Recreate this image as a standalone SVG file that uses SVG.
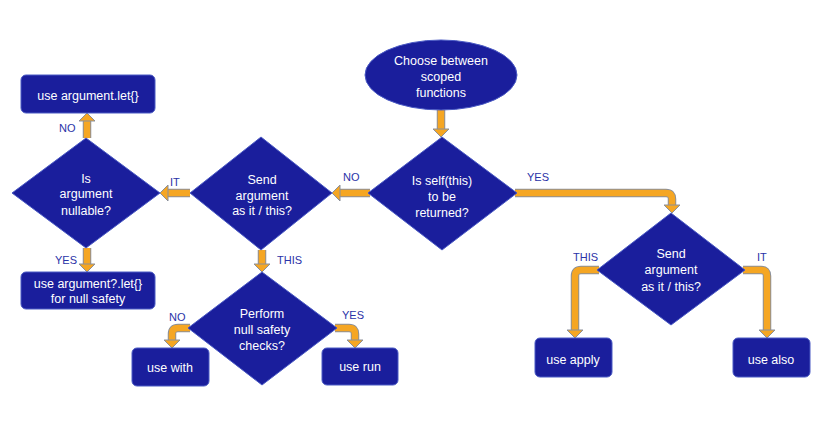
<svg xmlns="http://www.w3.org/2000/svg" width="838" height="425" viewBox="0 0 838 425">
<style>
.n{fill:#1a1e9c;stroke:#4a5ac4;stroke-width:1}
.t{fill:#ffffff;font-family:"Liberation Sans",Arial,sans-serif;font-size:12.5px;text-anchor:middle}
.l{fill:#2a33a8;font-family:"Liberation Sans",Arial,sans-serif;font-size:11px}
.co{fill:none;stroke:#8a8f9a;stroke-width:8.5}
.ci{fill:none;stroke:#f5a623;stroke-width:6.5}
.h{fill:#f5a623;stroke:#8a8f9a;stroke-width:1;stroke-linejoin:miter}
</style>
<rect width="838" height="425" fill="#ffffff"/>
<g id="connectors">
<path class="co" d="M441,110 V130"/><path class="ci" d="M441,110 V130"/><polygon class="h" points="433,129 449,129 441,137"/>
<path class="co" d="M370,193 H339"/><path class="ci" d="M370,193 H339"/><polygon class="h" points="340,185 340,201 332,193"/>
<path class="co" d="M190,193 H167"/><path class="ci" d="M190,193 H167"/><polygon class="h" points="168,185 168,201 160,193"/>
<path class="co" d="M87,138 V120"/><path class="ci" d="M87,138 V120"/><polygon class="h" points="79,121 95,121 87,113"/>
<path class="co" d="M87,248 V265"/><path class="ci" d="M87,248 V265"/><polygon class="h" points="79,264 95,264 87,272"/>
<path class="co" d="M262,250 V265"/><path class="ci" d="M262,250 V265"/><polygon class="h" points="254,264 270,264 262,272"/>
<path class="co" d="M190,328 H178 Q172,328 172,334 V341"/><path class="ci" d="M190,328 H178 Q172,328 172,334 V341"/><polygon class="h" points="164,340 180,340 172,348"/>
<path class="co" d="M335,328 H349 Q355,328 355,334 V341"/><path class="ci" d="M335,328 H349 Q355,328 355,334 V341"/><polygon class="h" points="347,340 363,340 355,348"/>
<path class="co" d="M515,193 H666 Q672,193 672,199 V206"/><path class="ci" d="M515,193 H666 Q672,193 672,199 V206"/><polygon class="h" points="664,205 680,205 672,213"/>
<path class="co" d="M599,270 H581 Q575,270 575,276 V331"/><path class="ci" d="M599,270 H581 Q575,270 575,276 V331"/><polygon class="h" points="567,330 583,330 575,338"/>
<path class="co" d="M743,270 H761 Q767,270 767,276 V331"/><path class="ci" d="M743,270 H761 Q767,270 767,276 V331"/><polygon class="h" points="759,330 775,330 767,338"/>
<text class="l" x="59" y="132">NO</text>
<text class="l" x="170" y="186">IT</text>
<text class="l" x="55" y="264">YES</text>
<text class="l" x="343" y="181">NO</text>
<text class="l" x="277" y="264">THIS</text>
<text class="l" x="169" y="321">NO</text>
<text class="l" x="342" y="319">YES</text>
<text class="l" x="527" y="181">YES</text>
<text class="l" x="573" y="261">THIS</text>
<text class="l" x="757" y="261">IT</text>
</g>
<g id="start">
<ellipse class="n" cx="441" cy="75" rx="76" ry="35"/>
<text class="t" x="441" y="64.5">Choose between</text>
<text class="t" x="441" y="80.5">scoped</text>
<text class="t" x="441" y="96.5">functions</text>
</g>
<g id="self-returned">
<polygon class="n" points="442,137 517,193 442,250 368,193"/>
<text class="t" x="442" y="184.5">Is self(this)</text>
<text class="t" x="442" y="200.5">to be</text>
<text class="t" x="442" y="216.5">returned?</text>
</g>
<g id="send-left">
<polygon class="n" points="261,137 332,193 261,250 190,193"/>
<text class="t" x="262" y="183.5">Send</text>
<text class="t" x="262" y="199.5">argument</text>
<text class="t" x="262" y="214.5">as it / this?</text>
</g>
<g id="nullable">
<polygon class="n" points="86,138 160,193 86,248 12,193"/>
<text class="t" x="86" y="182.5">Is</text>
<text class="t" x="86" y="198">argument</text>
<text class="t" x="86" y="214.5">nullable?</text>
</g>
<g id="let">
<rect class="n" x="21" y="75" width="134" height="38" rx="5"/>
<text class="t" x="88" y="99.5">use argument.let{}</text>
</g>
<g id="safe-let">
<rect class="n" x="21" y="272" width="134" height="37" rx="5"/>
<text class="t" x="88" y="287.5">use argument?.let{}</text>
<text class="t" x="88" y="302.5">for null safety</text>
</g>
<g id="null-checks">
<polygon class="n" points="262,272 337,328 262,385 188,328"/>
<text class="t" x="262" y="317.5">Perform</text>
<text class="t" x="262" y="333.5">null safety</text>
<text class="t" x="262" y="349.5">checks?</text>
</g>
<g id="with">
<rect class="n" x="132" y="348" width="77" height="38" rx="5"/>
<text class="t" x="170" y="372">use with</text>
</g>
<g id="run">
<rect class="n" x="322" y="348" width="76" height="37" rx="5"/>
<text class="t" x="360" y="371">use run</text>
</g>
<g id="send-right">
<polygon class="n" points="671,213 745,270 671,325 597,270"/>
<text class="t" x="671" y="257.5">Send</text>
<text class="t" x="671" y="274">argument</text>
<text class="t" x="671" y="291">as it / this?</text>
</g>
<g id="apply">
<rect class="n" x="535" y="338" width="77" height="39" rx="5"/>
<text class="t" x="573" y="364">use apply</text>
</g>
<g id="also">
<rect class="n" x="733" y="338" width="77" height="39" rx="5"/>
<text class="t" x="771" y="364">use also</text>
</g>
</svg>
